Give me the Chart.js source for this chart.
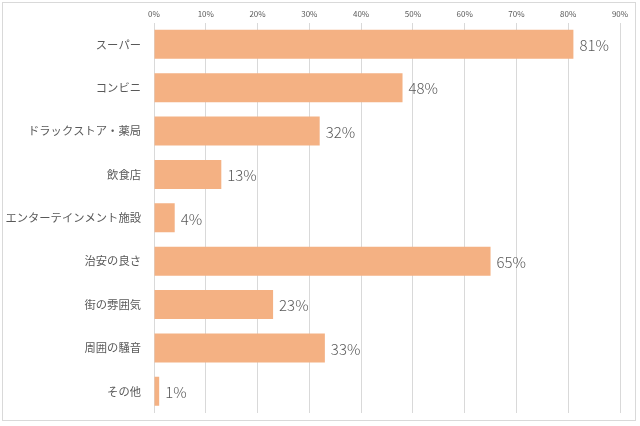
<!DOCTYPE html>
<html>
<head>
<meta charset="utf-8">
<script src="https://cdn.jsdelivr.net/npm/chart.js@4/dist/chart.umd.min.js"></script>
<style>
  body { margin: 0; background: #fff; }
  #wrap { position: relative; width: 640px; height: 426px; }
  #frame { position: absolute; left: 2px; top: 2px; width: 634px; height: 419px; border: 1px solid #d9d9d9; box-sizing: border-box; pointer-events: none; }
</style>
</head>
<body>
<div id="wrap">
  <canvas id="chart" width="640" height="426"></canvas>
  <div id="frame"></div>
</div>
<script>
const labels = ['スーパー', 'コンビニ', 'ドラックストア・薬局', '飲食店', 'エンターテインメント施設', '治安の良さ', '街の雰囲気', '周囲の騒音', 'その他'];
const values = [81, 48, 32, 13, 4, 65, 23, 33, 1];
const tickMax = 90;

const fontJP = '"Noto Sans CJK JP", "Noto Sans", sans-serif';

// values drawn at the end of each bar
const barValueLabels = {
  id: 'barValueLabels',
  afterDatasetsDraw(chart) {
    const ctx = chart.ctx;
    const meta = chart.getDatasetMeta(0);
    ctx.save();
    ctx.font = '300 15px ' + fontJP;
    ctx.fillStyle = '#595959';
    ctx.textAlign = 'left';
    ctx.textBaseline = 'middle';
    meta.data.forEach((bar, i) => {
      ctx.fillText(values[i] + '%', bar.x + 6, bar.y + 1);
    });
    ctx.restore();
  }
};

const config = {
  type: 'bar',
  data: {
    labels: labels,
    datasets: [{
      data: values,
      backgroundColor: '#f4b183',
      borderWidth: 0,
      barPercentage: 0.67,
      categoryPercentage: 1.0
    }]
  },
  options: {
    indexAxis: 'y',
    responsive: false,
    animation: false,
    layout: {
      padding: { top: 5, right: 20, bottom: 13, left: 0 }
    },
    plugins: {
      legend: false,
      tooltip: { enabled: false }
    },
    scales: {
      x: {
        position: 'top',
        min: 0,
        max: tickMax,
        ticks: {
          stepSize: 10,
          color: '#595959',
          font: { size: 8, family: fontJP },
          padding: 4,
          callback: (v) => v + '%'
        },
        grid: {
          color: '#d9d9d9',
          lineWidth: 1,
          drawTicks: false
        },
        border: { display: false }
      },
      y: {
        afterFit(scale) {
          scale.width = 154;
          scale.paddingTop = 0;
          scale.paddingBottom = 0;
        },
        ticks: {
          color: '#595959',
          font: { size: 11.3, family: fontJP },
          padding: 13
        },
        grid: { display: false, drawTicks: false },
        border: { display: false }
      }
    }
  },
  plugins: [barValueLabels]
};

const chart = new Chart(document.getElementById('chart'), config);
</script>
</body>
</html>
